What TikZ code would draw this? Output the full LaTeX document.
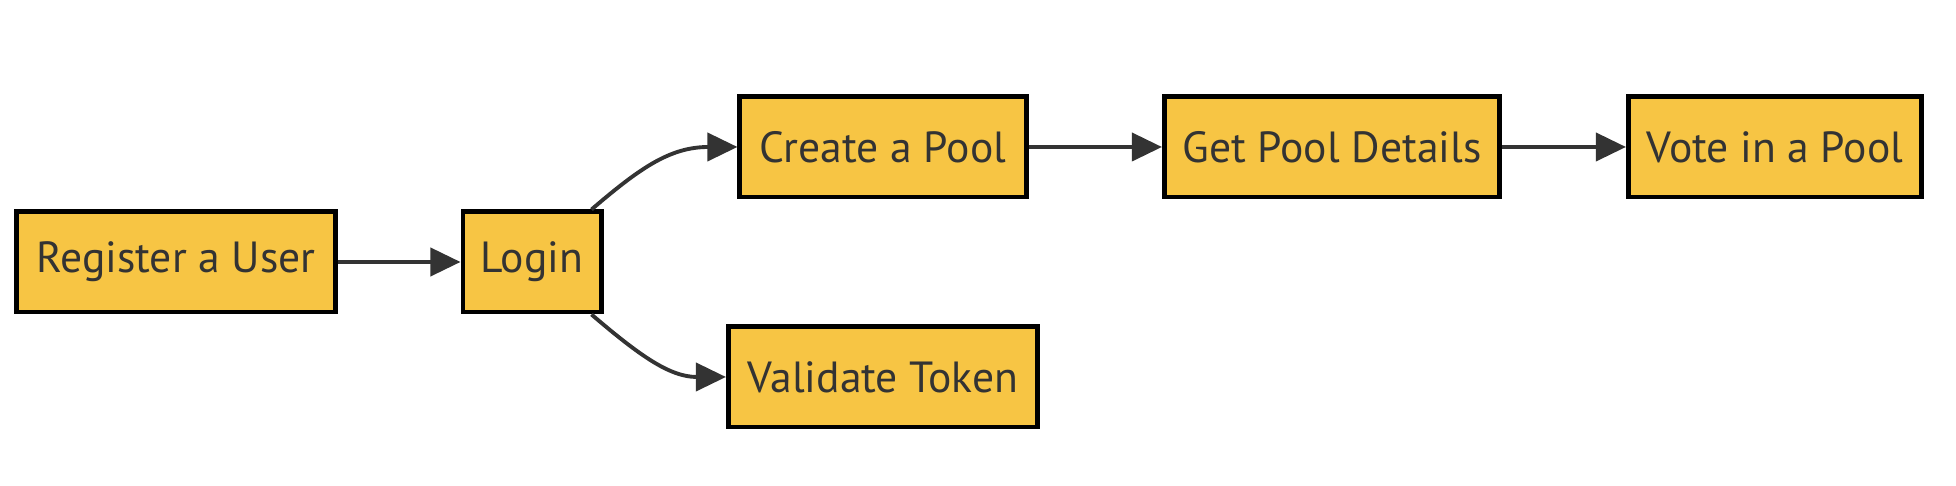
\documentclass[tikz,border=0pt]{standalone}
\usepackage{fontspec}
\setmainfont{PT Sans}
\usetikzlibrary{arrows.meta}
\definecolor{PollGold}{HTML}{F7C544}
\definecolor{EdgeGray}{HTML}{333333}
\tikzset{
    block/.style = {draw=black, fill=PollGold, rectangle, line width=1.4pt,
        minimum height=1cm, text=EdgeGray,
        font=\fontsize{12.4}{15}\selectfont},
    arrow/.style={draw=EdgeGray, line width=1.1pt,
        -{Triangle[length=0.3cm,width=0.28cm]}}
}

\begin{document}
\begin{tikzpicture}[x=0.01cm,y=-0.01cm]
            \useasboundingbox (0,0) rectangle (1956,486);
            \node[block,minimum width=3.18cm] (register) at (176,262) {Register a User};
            \node[block,minimum width=1.38cm] (login) at (532,262) {Login};
            \node[block,minimum width=2.86cm] (create) at (883,147) {Create a Pool};
            \node[block,minimum width=3.35cm] (details) at (1332,147) {Get Pool Details};
            \node[block,minimum width=2.93cm] (vote) at (1775,147) {Vote in a Pool};
            \node[block,minimum width=3.09cm] (validate) at (883,377) {Validate Token};
            \draw[arrow] (register) -- (login);
            \draw[arrow] ([xshift=-0.12cm]login.north east) .. controls (640,168) and (670,147) .. (create.west);
            \draw[arrow] ([xshift=-0.12cm]login.south east) .. controls (640,356) and (670,377) .. (validate.west);
            \draw[arrow] (create) -- (details);
            \draw[arrow] (details) -- (vote);
\end{tikzpicture}
\end{document}
